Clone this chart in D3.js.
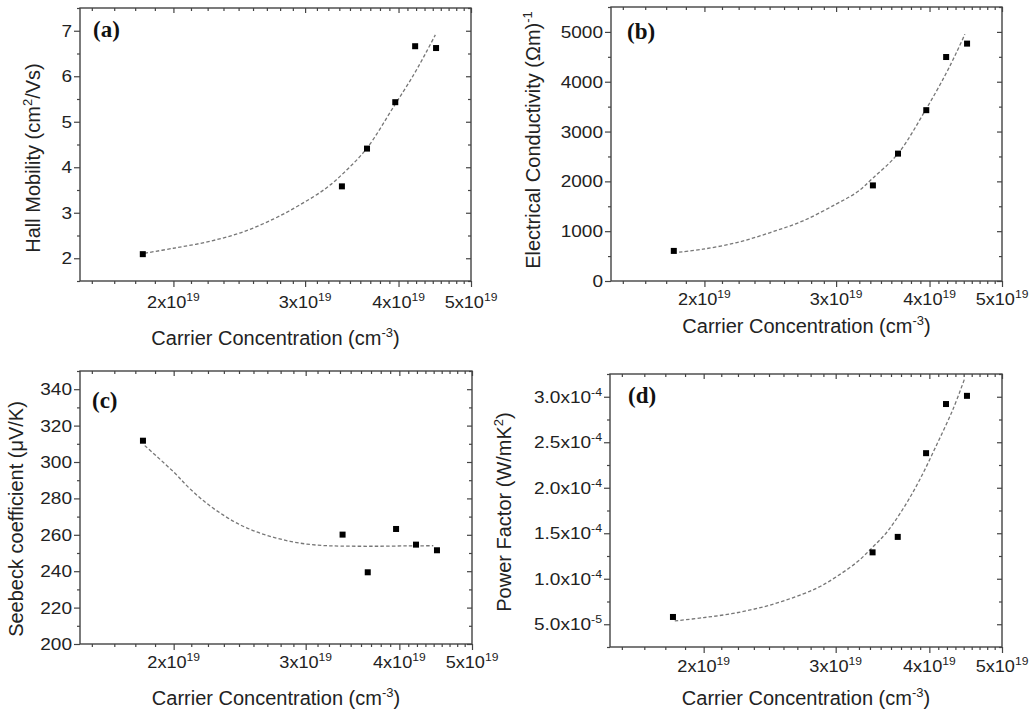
<!DOCTYPE html>
<html><head><meta charset="utf-8">
<script src="https://cdn.jsdelivr.net/npm/d3@7"></script>
<style>body{margin:0;background:#fff}svg{display:block}</style>
</head><body>
<svg id="chart" width="1030" height="713"></svg>
<script>
// ---------- data ----------
const carrier      = [1.82e19, 3.36e19, 3.63e19, 3.96e19, 4.21e19, 4.49e19];
const mobility     = [2.09, 3.58, 4.41, 5.43, 6.66, 6.62];
const conductivity = [604, 1919, 2557, 3429, 4496, 4765];
const seebeck      = [311.7, 260.1, 239.4, 263.2, 254.6, 251.5];
const powerFactor  = [0.58e-4, 1.29e-4, 1.46e-4, 2.38e-4, 2.92e-4, 3.01e-4];

// dashed fitted curves
const fitCarrierA = [1.83e19, 2.0e19, 2.22e19, 2.46e19, 2.72e19, 2.95e19, 3.2e19, 3.41e19, 3.63e19, 3.94e19, 4.19e19, 4.36e19, 4.48e19];
const fitMobility = [2.11, 2.22, 2.36, 2.56, 2.86, 3.17, 3.54, 3.94, 4.42, 5.33, 6.03, 6.54, 6.91];
const fitCarrierB = [1.85e19, 1.99e19, 2.21e19, 2.45e19, 2.71e19, 3.0e19, 3.2e19, 3.36e19, 3.63e19, 3.95e19, 4.2e19, 4.35e19, 4.46e19];
const fitConductivity = [578, 638, 771, 973, 1208, 1544, 1785, 2067, 2557, 3429, 4140, 4600, 4953];
const fitCarrierC = [1.83e19, 2.0e19, 2.1e19, 2.21e19, 2.33e19, 2.45e19, 2.58e19, 2.72e19, 2.86e19, 3.01e19, 3.17e19, 3.34e19, 3.7e19, 4.1e19, 4.44e19];
const fitSeebeck  = [309, 294.5, 285.5, 277.5, 270.8, 265.6, 261.6, 258.6, 256.4, 254.9, 254.1, 253.8, 253.7, 253.9, 254.0];
const fitCarrierD = [1.83e19, 2.0e19, 2.21e19, 2.45e19, 2.71e19, 2.86e19, 3.01e19, 3.2e19, 3.36e19, 3.51e19, 3.69e19, 3.88e19, 4.09e19, 4.3e19, 4.46e19];
const fitPowerFactor = [0.536e-4, 0.573e-4, 0.625e-4, 0.71e-4, 0.831e-4, 0.915e-4, 1.025e-4, 1.18e-4, 1.346e-4, 1.511e-4, 1.769e-4, 2.082e-4, 2.47e-4, 2.86e-4, 3.204e-4];

// ticks
const xDomain = [1.5e19, 5e19];
const xTickValues = [2e19, 3e19, 4e19, 5e19];
const xTickMantissa = ["2x10", "3x10", "4x10", "5x10"];
const xTickExponent = "19";

const yTicksA = [2, 3, 4, 5, 6, 7];
const yTicksB = [0, 1000, 2000, 3000, 4000, 5000];
const yTicksC = [200, 220, 240, 260, 280, 300, 320, 340];
const yTicksD = [0.5e-4, 1.0e-4, 1.5e-4, 2.0e-4, 2.5e-4, 3.0e-4];
const yLabelsD = [["5.0x10", "-5"], ["1.0x10", "-4"], ["1.5x10", "-4"], ["2.0x10", "-4"], ["2.5x10", "-4"], ["3.0x10", "-4"]];

// ---------- drawing ----------
const svg = d3.select("#chart");
const FONT = "'Liberation Sans', Arial, Helvetica, sans-serif";
const TXT = "#222";
const AX = "#444";

function rich(sel, parts, size, supSize, shift) {
  let up = false;
  sel.attr("font-size", size);
  parts.forEach(p => {
    const ts = sel.append("tspan").text(p.t);
    if (p.sup) { ts.attr("font-size", supSize).attr("dy", -shift); up = true; }
    else { ts.attr("font-size", size); if (up) { ts.attr("dy", shift); up = false; } }
  });
}

const panels = [
  { tag: "(a)", L: 80, R: 471, T: 8, B: 281, yDomain: [1.5, 7.5], yTicks: yTicksA, yMinorStep: 0.5,
    yLabel: v => [[String(v), null]], xs: carrier, ys: mobility, fx: fitCarrierA, fy: fitMobility,
    yTitle: [{t: "Hall Mobility (cm"}, {t: "2", sup: true}, {t: "/Vs)"}], yTitleX: 40, yTitleY: 158,
    xTitleY: 345, xTickY: 308, tagX: 93, tagY: 37 },
  { tag: "(b)", L: 611, R: 1002, T: 7, B: 281, yDomain: [0, 5500], yTicks: yTicksB, yMinorStep: 500,
    yLabel: v => [[String(v), null]], xs: carrier, ys: conductivity, fx: fitCarrierB, fy: fitConductivity,
    yTitle: [{t: "Electrical Conductivity (\u03A9m)"}, {t: "-1", sup: true}], yTitleX: 540, yTitleY: 140,
    xTitleY: 333, xTickY: 305, tagX: 627, tagY: 39 },
  { tag: "(c)", L: 80, R: 472, T: 371, B: 644, yDomain: [200, 350], yTicks: yTicksC, yMinorStep: 10,
    yLabel: v => [[String(v), null]], xs: carrier, ys: seebeck, fx: fitCarrierC, fy: fitSeebeck,
    yTitle: [{t: "Seebeck coefficient (\u03BCV/K)"}], yTitleX: 23, yTitleY: 519,
    xTitleY: 705, xTickY: 668, tagX: 92, tagY: 408 },
  { tag: "(d)", L: 610, R: 1002, T: 374, B: 647, yDomain: [0.25e-4, 3.25e-4], yTicks: yTicksD, yMinorStep: 0.25e-4,
    yLabel: (v, i) => [yLabelsD[i]], xs: carrier, ys: powerFactor, fx: fitCarrierD, fy: fitPowerFactor,
    yTitle: [{t: "Power Factor (W/mK"}, {t: "2", sup: true}, {t: ")"}], yTitleX: 511, yTitleY: 512,
    xTitleY: 705, xTickY: 672, tagX: 628, tagY: 403 }
];

// minor x ticks: 8 per unit interval (linear steps of 1/9)
const xMinor = [];
for (let n = 1; n <= 4; n++) for (let k = 1; k <= 8; k++) {
  const v = (n + k / 9) * 1e19;
  if (v > xDomain[0] && v < xDomain[1]) xMinor.push(v);
}

panels.forEach(p => {
  const g = svg.append("g");
  const x = d3.scaleLog().domain(xDomain).range([p.L, p.R]);
  const y = d3.scaleLinear().domain(p.yDomain).range([p.B, p.T]);
  const eps = (p.yDomain[1] - p.yDomain[0]) * 1e-6;
  const yMinor = d3.range(p.yDomain[0], p.yDomain[1] + eps, p.yMinorStep)
      .filter(v => !p.yTicks.some(t => Math.abs(t - v) < eps));

  function axis(gen, transform, vals, size) {
    const a = g.append("g").attr("transform", transform)
      .call(gen.tickValues(vals).tickSize(size).tickFormat(""));
    a.select(".domain").remove();
    a.selectAll("line").attr("stroke", AX).attr("stroke-width", 1.2);
  }
  axis(d3.axisBottom(x), `translate(0,${p.B})`, xTickValues, 6);
  axis(d3.axisBottom(x), `translate(0,${p.B})`, xMinor, 3);
  axis(d3.axisTop(x), `translate(0,${p.T})`, xTickValues, -5);
  axis(d3.axisTop(x), `translate(0,${p.T})`, xMinor, -3);
  axis(d3.axisLeft(y), `translate(${p.L},0)`, p.yTicks, 6);
  axis(d3.axisLeft(y), `translate(${p.L},0)`, yMinor, 3);
  axis(d3.axisRight(y), `translate(${p.R},0)`, p.yTicks, -5);
  axis(d3.axisRight(y), `translate(${p.R},0)`, yMinor, -3);

  g.append("rect").attr("x", p.L).attr("y", p.T)
    .attr("width", p.R - p.L).attr("height", p.B - p.T)
    .attr("fill", "none").attr("stroke", AX).attr("stroke-width", 1.4);

  xTickValues.forEach((v, i) => {
    const t = g.append("text")
      .attr("transform", `translate(${x(v)},${p.xTickY}) scale(1.1,1)`)
      .attr("text-anchor", "middle").attr("font-family", FONT).attr("fill", TXT);
    rich(t, [{t: xTickMantissa[i]}, {t: xTickExponent, sup: true}], 16.5, 11, 7);
  });

  p.yTicks.forEach((v, i) => {
    const lab = p.yLabel(v, i)[0];
    const parts = [{t: lab[0]}];
    if (lab[1]) parts.push({t: lab[1], sup: true});
    const t = g.append("text")
      .attr("transform", `translate(${p.L - 8},${y(v) + 6}) scale(1.12,1)`)
      .attr("text-anchor", "end").attr("font-family", FONT).attr("fill", TXT);
    rich(t, parts, 17, 11, 7);
  });

  const xt = g.append("text")
    .attr("transform", `translate(${(p.L + p.R) / 2},${p.xTitleY})`)
    .attr("text-anchor", "middle").attr("font-family", FONT).attr("fill", TXT);
  rich(xt, [{t: "Carrier Concentration (cm"}, {t: "-3", sup: true}, {t: ")"}], 20, 13, 8);

  const yt = g.append("text")
    .attr("transform", `translate(${p.yTitleX},${p.yTitleY}) rotate(-90)`)
    .attr("text-anchor", "middle").attr("font-family", FONT).attr("fill", TXT);
  rich(yt, p.yTitle, 20, 13, 8);

  g.append("text").attr("x", p.tagX).attr("y", p.tagY)
    .attr("font-family", "'Liberation Serif', 'Times New Roman', serif")
    .attr("font-weight", "bold").attr("font-size", 23).attr("fill", "#111")
    .text(p.tag);

  const fit = p.fx.map((xv, i) => [xv, p.fy[i]]);
  g.append("path").datum(fit)
    .attr("d", d3.line().x(d => x(d[0])).y(d => y(d[1])).curve(d3.curveCatmullRom.alpha(0.5)))
    .attr("fill", "none").attr("stroke", "#777").attr("stroke-width", 1.3)
    .attr("stroke-dasharray", "3.5,2.2");

  g.selectAll("rect.pt").data(p.xs.map((xv, i) => [xv, p.ys[i]])).enter()
    .append("rect").attr("class", "pt")
    .attr("x", d => x(d[0]) - 3).attr("y", d => y(d[1]) - 3)
    .attr("width", 6).attr("height", 6).attr("fill", "#000");
});
</script>
</body></html>
